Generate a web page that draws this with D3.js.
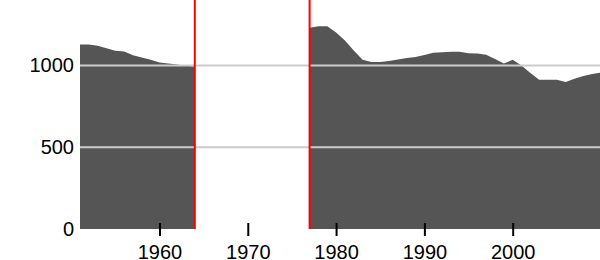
<!DOCTYPE html>
<html><head><meta charset="utf-8">
<script src="https://cdn.jsdelivr.net/npm/d3@7"></script>
<style>body{margin:0;background:#fff}svg{display:block}</style>
</head><body>
<svg id="c" width="600" height="260"></svg>
<script>
const years = d3.range(1951, 2011);
const values = [
  1128, 1128, 1120, 1105, 1090, 1085, 1062, 1048, 1035, 1018, 1012, 1006, 998, 994,
  null, null, null, null, null, null, null, null, null, null, null, null,
  1230, 1240, 1240, 1201, 1152, 1091, 1035, 1021, 1021, 1027, 1036, 1046, 1052, 1064,
  1077, 1080, 1083, 1083, 1074, 1073, 1065, 1040, 1012, 1034, 1000, 954, 913, 913,
  913, 898, 918, 936, 948, 957
];
const gapYears = [1964, 1977];
const xTicks = [1960, 1970, 1980, 1990, 2000];
const yTicks = [0, 500, 1000];

const data = years.map((y, i) => ({year: y, value: values[i]}));
const svg = d3.select("#c");
const x = d3.scaleLinear().domain([1951, 2010]).range([80, 601]);
const y = d3.scaleLinear().domain([0, 1400]).range([229, 0]);
const font = "'Liberation Sans', Arial, sans-serif";

const area = d3.area()
  .defined(d => d.value !== null)
  .x(d => x(d.year)).y0(y(0)).y1(d => y(d.value));
svg.append("path").datum(data).attr("d", area).attr("fill", "#555555");

svg.append("g").selectAll("line").data(yTicks.filter(t => t > 0)).join("line")
  .attr("x1", 80).attr("x2", 600)
  .attr("y1", d => y(d)).attr("y2", d => y(d))
  .attr("stroke", "#cccccc").attr("stroke-width", 2);

svg.append("g").selectAll("line").data(gapYears).join("line")
  .attr("x1", d => x(d)).attr("x2", d => x(d))
  .attr("y1", 0).attr("y2", y(0))
  .attr("stroke", "#ff0000").attr("stroke-width", 2);

svg.append("g").selectAll("text").data(yTicks).join("text")
  .attr("x", 74).attr("y", d => y(d)).attr("dy", "0.35em")
  .attr("text-anchor", "end")
  .attr("font-family", font).attr("font-size", 20)
  .attr("fill", "#000").text(d => d);

const xa = svg.append("g").attr("transform", `translate(0,${y(0) - 6})`)
  .call(d3.axisBottom(x).tickValues(xTicks).tickFormat(d3.format("d")).tickSize(13).tickPadding(9));
xa.select(".domain").remove();
xa.selectAll(".tick line").attr("stroke", "#000").attr("stroke-width", 2);
xa.selectAll(".tick text").attr("font-family", font).attr("font-size", 20).attr("fill", "#000");
</script>
</body></html>
